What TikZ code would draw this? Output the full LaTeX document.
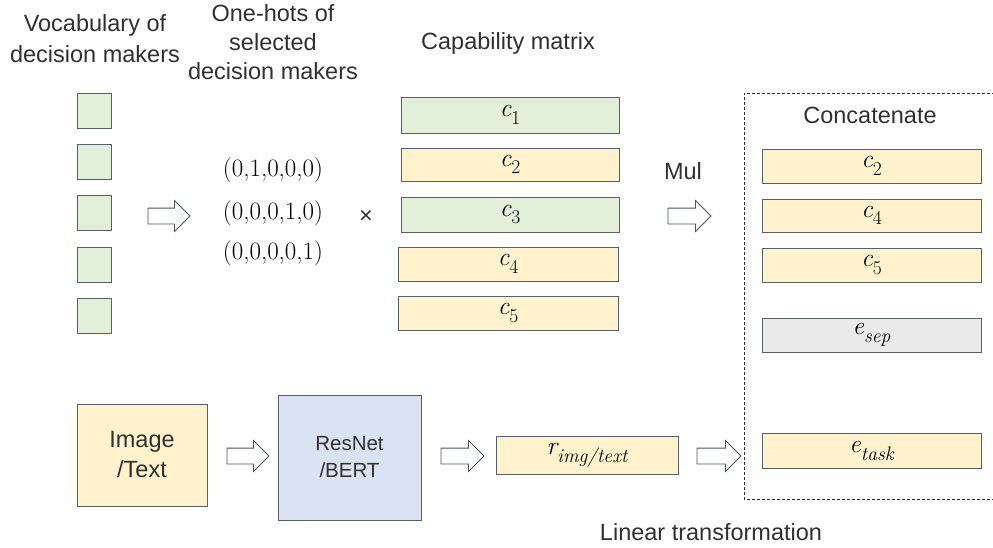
\documentclass[tikz,border=0pt]{standalone}
\usepackage{fontspec}
\usetikzlibrary{shapes.arrows}
\newfontfamily\labelfont{Liberation Sans}
\newcommand\subv[2]{{\itshape #1}\raisebox{-0.3em}{\fontsize{19.5}{20}\selectfont #2}}
\definecolor{greenfill}{HTML}{E2EFD9}
\definecolor{orangefill}{HTML}{FFF2CC}
\definecolor{bluefill}{HTML}{DAE3F3}
\definecolor{grayfill}{HTML}{EAEAEA}
\definecolor{bordercol}{HTML}{55606A}
\definecolor{arrowcol}{HTML}{44546A}
\definecolor{txtcol}{HTML}{303030}
\begin{document}
\begin{tikzpicture}[x=1pt,y=-1pt,
  lbl/.style={font=\labelfont\fontsize{23.5}{29}\selectfont, text=txtcol, align=center, inner sep=0pt},
  sq/.style={draw=bordercol, line width=0.8pt, fill=greenfill, minimum width=34pt, minimum height=35pt, inner sep=0pt},
  bar/.style={draw=bordercol, line width=0.8pt, inner sep=0pt, text=black, font=\fontsize{25.5}{27}\selectfont},
  hollowarrow/.style={shape=single arrow, draw=arrowcol, line width=0.8pt, fill=white, inner xsep=0pt, inner ysep=7.5pt, single arrow head extend=7.5pt, minimum height=#1},
  tuple/.style={font=\fontsize{25}{28}\selectfont, text=black, inner sep=0pt},
  dashedbox/.style={draw=txtcol, line width=0.8pt, dash pattern=on 3pt off 2pt}
]
\useasboundingbox (0,0) rectangle (993,547);

% top labels
\node[lbl] (vocabA) at (95,25) {Vocabulary of};
\node[lbl] (vocabB) at (95,54) {decision makers};
\node[lbl] (oneA) at (273,13) {One-hots of};
\node[lbl] (oneB) at (273,42) {selected};
\node[lbl] (oneC) at (273,71) {decision makers};
\node[lbl] (caplbl) at (508,43) {Capability matrix};

% vocabulary squares
\node[sq] (s1) at (94,110.5) {};
\node[sq] (s2) at (94,162) {};
\node[sq] (s3) at (94,213) {};
\node[sq] (s4) at (94,264.5) {};
\node[sq] (s5) at (94,316) {};

\node[hollowarrow=42pt] (a0) at (165,216) {};

% one-hots
\node[tuple] (t1) at (273,170) {(0,1,0,0,0)};
\node[tuple] (t2) at (273,213) {(0,0,0,1,0)};
\node[tuple] (t3) at (273,253) {(0,0,0,0,1)};
\node[lbl] (times) at (366,217) {×};

% capability matrix
\node[bar, fill=greenfill, minimum width=218pt, minimum height=36pt] (c1) at (510,115) {\subv{c}{1}};
\node[bar, fill=orangefill, minimum width=218pt, minimum height=33pt] (c2) at (510,164.5) {\subv{c}{2}};
\node[bar, fill=greenfill, minimum width=218pt, minimum height=35pt] (c3) at (510,214.5) {\subv{c}{3}};
\node[bar, fill=orangefill, minimum width=220pt, minimum height=34pt] (c4) at (508,264) {\subv{c}{4}};
\node[bar, fill=orangefill, minimum width=220pt, minimum height=34pt] (c5) at (508,313) {\subv{c}{5}};

\node[lbl] (mul) at (683,171) {Mul};
\node[hollowarrow=43pt] (a1) at (685.5,216) {};

% concatenate box (open on the right, runs off the picture)
\draw[dashedbox] (1000,93) -- (744,93) -- (744,499) -- (1000,499);
\node[lbl] (concat) at (870,115) {Concatenate};
\node[bar, fill=orangefill, minimum width=219pt, minimum height=34pt] (r2) at (871.5,166) {\subv{c}{2}};
\node[bar, fill=orangefill, minimum width=219pt, minimum height=33pt] (r4) at (871.5,215.5) {\subv{c}{4}};
\node[bar, fill=orangefill, minimum width=219pt, minimum height=34pt] (r5) at (871.5,265) {\subv{c}{5}};
\node[bar, fill=grayfill, minimum width=219pt, minimum height=34pt] (esep) at (871.5,335) {\subv{e}{\itshape sep}};
\node[bar, fill=orangefill, minimum width=219pt, minimum height=35pt] (etask) at (871.5,451) {\subv{e}{\itshape task}};

% bottom row
\node[bar, fill=orangefill, minimum width=130pt, minimum height=102pt, font=\labelfont\fontsize{23.5}{30}\selectfont, text=txtcol, align=center] (img) at (142,455) {Image\\/Text};
\node[hollowarrow=42pt] (b1) at (244,456) {};
\node[bar, fill=bluefill, minimum width=143pt, minimum height=125pt, font=\labelfont\fontsize{20.5}{27}\selectfont, text=txtcol, align=center] (resnet) at (349.5,457.5) {ResNet\\/BERT};
\node[hollowarrow=43pt] (b2) at (458.5,456) {};
\node[bar, fill=orangefill, minimum width=182pt, minimum height=38pt] (rbox) at (587,455) {\subv{r}{\itshape img/text}};
\node[hollowarrow=44pt] (b3) at (715,456) {};
\node[lbl] (linear) at (711,532) {Linear transformation};
\end{tikzpicture}
\end{document}
